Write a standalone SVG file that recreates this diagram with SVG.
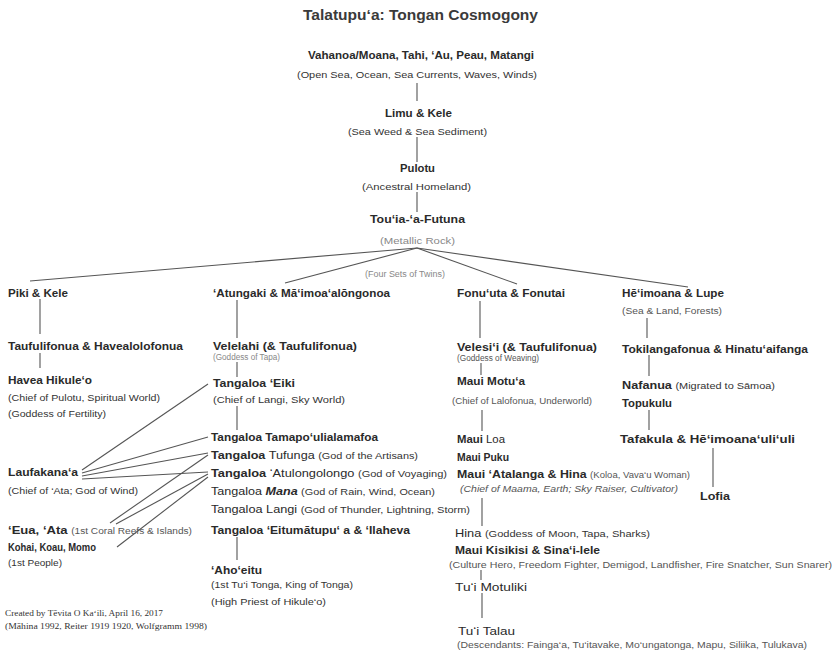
<svg xmlns="http://www.w3.org/2000/svg" width="837" height="655" viewBox="0 0 837 655">
<style>
text{font-family:"Liberation Sans","DejaVu Sans",sans-serif;fill:#2a2a2a}
.t{font-size:14px;font-weight:bold;fill:#3a3a3a}
.n{font-size:11px;font-weight:bold}
.d{font-size:9.5px;fill:#333;font-weight:normal}
.s{font-size:8.5px;fill:#555;font-weight:normal}
.g{font-size:8.5px;fill:#888;font-weight:normal}
.r{font-weight:normal}
.c{font-family:"Liberation Serif",serif;font-size:8px;fill:#333}
#edges line{stroke:#555;stroke-width:1.1;fill:none}
</style>
<rect width="837" height="655" fill="#fff"/>
<g id="edges">
<line x1="417" y1="83" x2="417" y2="101"/>
<line x1="417" y1="137" x2="417" y2="162"/>
<line x1="417" y1="192" x2="417" y2="212"/>
<line x1="417" y1="248" x2="30" y2="281"/>
<line x1="417" y1="248" x2="285" y2="283"/>
<line x1="417" y1="248" x2="517" y2="284"/>
<line x1="417" y1="248" x2="688" y2="287"/>
<line x1="40" y1="299" x2="40" y2="334"/>
<line x1="40" y1="353" x2="40" y2="368"/>
<line x1="237" y1="300" x2="237" y2="338"/>
<line x1="237" y1="362" x2="237" y2="377"/>
<line x1="237" y1="406" x2="237" y2="430"/>
<line x1="237" y1="537" x2="237" y2="560"/>
<line x1="208" y1="384" x2="82" y2="470"/>
<line x1="208" y1="437" x2="82" y2="473"/>
<line x1="208" y1="453" x2="82" y2="476"/>
<line x1="208" y1="472" x2="82" y2="479"/>
<line x1="208" y1="455" x2="110" y2="523"/>
<line x1="208" y1="474" x2="116" y2="524"/>
<line x1="208" y1="477" x2="117" y2="547"/>
<line x1="480" y1="301" x2="480" y2="338"/>
<line x1="481" y1="363" x2="481" y2="375"/>
<line x1="482" y1="410" x2="482" y2="431"/>
<line x1="482" y1="498" x2="482" y2="526"/>
<line x1="481" y1="570" x2="481" y2="580"/>
<line x1="482" y1="593" x2="482" y2="618"/>
<line x1="647" y1="318" x2="647" y2="338"/>
<line x1="649" y1="355" x2="649" y2="376"/>
<line x1="649" y1="410" x2="649" y2="430"/>
<line x1="713" y1="448" x2="713" y2="487"/>
</g>
<g id="title"><text class="t" x="303" y="20" textLength="235" lengthAdjust="spacingAndGlyphs">Talatupu‘a: Tongan Cosmogony</text></g>
<g id="vahanoa">
<text class="n" x="308" y="59" textLength="226" lengthAdjust="spacingAndGlyphs">Vahanoa/Moana, Tahi, ‘Au, Peau, Matangi</text>
<text class="d" x="297" y="78" textLength="240" lengthAdjust="spacingAndGlyphs">(Open Sea, Ocean, Sea Currents, Waves, Winds)</text>
</g>
<g id="limu">
<text class="n" x="385" y="117" textLength="67" lengthAdjust="spacingAndGlyphs">Limu &amp; Kele</text>
<text class="d" x="348" y="135" textLength="139" lengthAdjust="spacingAndGlyphs">(Sea Weed &amp; Sea Sediment)</text>
</g>
<g id="pulotu">
<text class="n" x="400" y="172" textLength="35" lengthAdjust="spacingAndGlyphs">Pulotu</text>
<text class="d" x="362" y="190" textLength="109" lengthAdjust="spacingAndGlyphs">(Ancestral Homeland)</text>
</g>
<g id="touia">
<text class="n" x="370" y="223" textLength="95" lengthAdjust="spacingAndGlyphs">Tou‘ia-‘a-Futuna</text>
<text class="g" x="380" y="244" textLength="75" lengthAdjust="spacingAndGlyphs">(Metallic Rock)</text>
<text class="g" x="365" y="277" textLength="80" lengthAdjust="spacingAndGlyphs">(Four Sets of Twins)</text>
</g>
<g id="piki"><text class="n" x="8" y="297" textLength="60" lengthAdjust="spacingAndGlyphs">Piki &amp; Kele</text></g>
<g id="taufulifonua"><text class="n" x="8" y="350" textLength="175" lengthAdjust="spacingAndGlyphs">Taufulifonua &amp; Havealolofonua</text></g>
<g id="havea">
<text class="n" x="8" y="384" textLength="84" lengthAdjust="spacingAndGlyphs">Havea Hikule‘o</text>
<text class="d" x="8" y="401" textLength="152" lengthAdjust="spacingAndGlyphs">(Chief of Pulotu, Spiritual World)</text>
<text class="d" x="8" y="417" textLength="98" lengthAdjust="spacingAndGlyphs">(Goddess of Fertility)</text>
</g>
<g id="laufakanaa">
<text class="n" x="8" y="476" textLength="70" lengthAdjust="spacingAndGlyphs">Laufakana‘a</text>
<text class="d" x="8" y="494" textLength="130" lengthAdjust="spacingAndGlyphs">(Chief of ‘Ata; God of Wind)</text>
</g>
<g id="eua">
<text class="n" x="8" y="534" textLength="184" lengthAdjust="spacingAndGlyphs">‘Eua, ‘Ata <tspan class="s">(1st Coral Reefs &amp; Islands)</tspan></text>
</g>
<g id="kohai">
<text class="n" x="8" y="551" textLength="88" lengthAdjust="spacingAndGlyphs">Kohai, Koau, Momo</text>
<text class="d" x="8" y="566" textLength="54" lengthAdjust="spacingAndGlyphs">(1st People)</text>
</g>
<g id="credit">
<text class="c" x="5" y="616" textLength="158" lengthAdjust="spacingAndGlyphs">Created by Tēvita O Ka‘ili, April 16, 2017</text>
<text class="c" x="5" y="629" textLength="202" lengthAdjust="spacingAndGlyphs">(Māhina 1992, Reiter 1919 1920, Wolfgramm 1998)</text>
</g>
<g id="atungaki"><text class="n" x="213" y="297" textLength="177" lengthAdjust="spacingAndGlyphs">‘Atungaki &amp; Mā‘imoa‘alōngonoa</text></g>
<g id="velelahi">
<text class="n" x="213" y="350" textLength="144" lengthAdjust="spacingAndGlyphs">Velelahi (&amp; Taufulifonua)</text>
<text class="g" x="213" y="360" textLength="67" lengthAdjust="spacingAndGlyphs">(Goddess of Tapa)</text>
</g>
<g id="eiki">
<text class="n" x="213" y="387" textLength="82" lengthAdjust="spacingAndGlyphs">Tangaloa ‘Eiki</text>
<text class="d" x="213" y="403" textLength="132" lengthAdjust="spacingAndGlyphs">(Chief of Langi, Sky World)</text>
</g>
<g id="tamapo"><text class="n" x="211" y="441" textLength="167" lengthAdjust="spacingAndGlyphs">Tangaloa Tamapo‘ulialamafoa</text></g>
<g id="tufunga"><text class="n" x="211" y="459" textLength="207" lengthAdjust="spacingAndGlyphs">Tangaloa <tspan class="r">Tufunga</tspan> <tspan class="d">(God of the Artisans)</tspan></text></g>
<g id="atulongolongo"><text class="n" x="211" y="477" textLength="236" lengthAdjust="spacingAndGlyphs">Tangaloa <tspan class="r">‘Atulongolongo</tspan> <tspan class="d">(God of Voyaging)</tspan></text></g>
<g id="mana"><text class="n r" x="211" y="495" textLength="224" lengthAdjust="spacingAndGlyphs">Tangaloa <tspan font-weight="bold" font-style="italic">Mana</tspan> <tspan class="d">(God of Rain, Wind, Ocean)</tspan></text></g>
<g id="langi"><text class="n r" x="211" y="513" textLength="259" lengthAdjust="spacingAndGlyphs">Tangaloa Langi <tspan class="d">(God of Thunder, Lightning, Storm)</tspan></text></g>
<g id="eitumatupua"><text class="n" x="211" y="534" textLength="199" lengthAdjust="spacingAndGlyphs">Tangaloa ‘Eitumātupu‘ a &amp; ‘Ilaheva</text></g>
<g id="ahoeitu">
<text class="n" x="211" y="574" textLength="51" lengthAdjust="spacingAndGlyphs">‘Aho‘eitu</text>
<text class="d" x="211" y="588" textLength="142" lengthAdjust="spacingAndGlyphs">(1st Tu‘i Tonga, King of Tonga)</text>
<text class="d" x="211" y="605" textLength="115" lengthAdjust="spacingAndGlyphs">(High Priest of Hikule‘o)</text>
</g>
<g id="fonuuta"><text class="n" x="457" y="297" textLength="108" lengthAdjust="spacingAndGlyphs">Fonu‘uta &amp; Fonutai</text></g>
<g id="velesii">
<text class="n" x="457" y="351" textLength="140" lengthAdjust="spacingAndGlyphs">Velesi‘i (&amp; Taufulifonua)</text>
<text class="s" x="457" y="361" textLength="82" lengthAdjust="spacingAndGlyphs">(Goddess of Weaving)</text>
</g>
<g id="mauimotua">
<text class="n" x="457" y="385" textLength="68" lengthAdjust="spacingAndGlyphs">Maui Motu‘a</text>
<text class="s" x="452" y="404" textLength="140" lengthAdjust="spacingAndGlyphs">(Chief of Lalofonua, Underworld)</text>
</g>
<g id="mauiloa"><text class="n" x="457" y="443" textLength="48" lengthAdjust="spacingAndGlyphs">Maui <tspan class="r">Loa</tspan></text></g>
<g id="mauipuku"><text class="n" x="457" y="461" textLength="52" lengthAdjust="spacingAndGlyphs">Maui Puku</text></g>
<g id="mauiatalanga">
<text class="n" x="457" y="478" textLength="233" lengthAdjust="spacingAndGlyphs">Maui ‘Atalanga &amp; Hina <tspan class="s">(Koloa, Vava‘u Woman)</tspan></text>
<text class="s" x="460" y="492" textLength="218" lengthAdjust="spacingAndGlyphs" font-style="italic">(Chief of Maama, Earth; Sky Raiser, Cultivator)</text>
</g>
<g id="hina"><text class="n r" x="455" y="537" textLength="195" lengthAdjust="spacingAndGlyphs">Hina <tspan class="d">(Goddess of Moon, Tapa, Sharks)</tspan></text></g>
<g id="mauikisikisi">
<text class="n" x="455" y="554" textLength="145" lengthAdjust="spacingAndGlyphs">Maui Kisikisi &amp; Sina‘i-lele</text>
<text class="s" x="449" y="568" textLength="383" lengthAdjust="spacingAndGlyphs">(Culture Hero, Freedom Fighter, Demigod, Landfisher, Fire Snatcher, Sun Snarer)</text>
</g>
<g id="tuimotuliki"><text class="n r" x="455" y="591" textLength="72" lengthAdjust="spacingAndGlyphs">Tu‘i Motuliki</text></g>
<g id="tuitalau">
<text class="n r" x="458" y="635" textLength="57" lengthAdjust="spacingAndGlyphs">Tu‘i Talau</text>
<text class="s" x="457" y="648" textLength="350" lengthAdjust="spacingAndGlyphs">(Descendants: Fainga‘a, Tu‘itavake, Mo‘ungatonga, Mapu, Siliika, Tulukava)</text>
</g>
<g id="heimoana">
<text class="n" x="622" y="297" textLength="102" lengthAdjust="spacingAndGlyphs">Hē‘imoana &amp; Lupe</text>
<text class="s" x="622" y="314" textLength="100" lengthAdjust="spacingAndGlyphs">(Sea &amp; Land, Forests)</text>
</g>
<g id="tokilanga"><text class="n" x="622" y="353" textLength="186" lengthAdjust="spacingAndGlyphs">Tokilangafonua &amp; Hinatu‘aifanga</text></g>
<g id="nafanua"><text class="n" x="622" y="389" textLength="153" lengthAdjust="spacingAndGlyphs">Nafanua <tspan class="d">(Migrated to Sāmoa)</tspan></text></g>
<g id="topukulu"><text class="n" x="622" y="407" textLength="50" lengthAdjust="spacingAndGlyphs">Topukulu</text></g>
<g id="tafakula"><text class="n" x="620" y="443" textLength="175" lengthAdjust="spacingAndGlyphs">Tafakula &amp; Hē‘imoana‘uli‘uli</text></g>
<g id="lofia"><text class="n" x="700" y="500" textLength="30" lengthAdjust="spacingAndGlyphs">Lofia</text></g>
</svg>
